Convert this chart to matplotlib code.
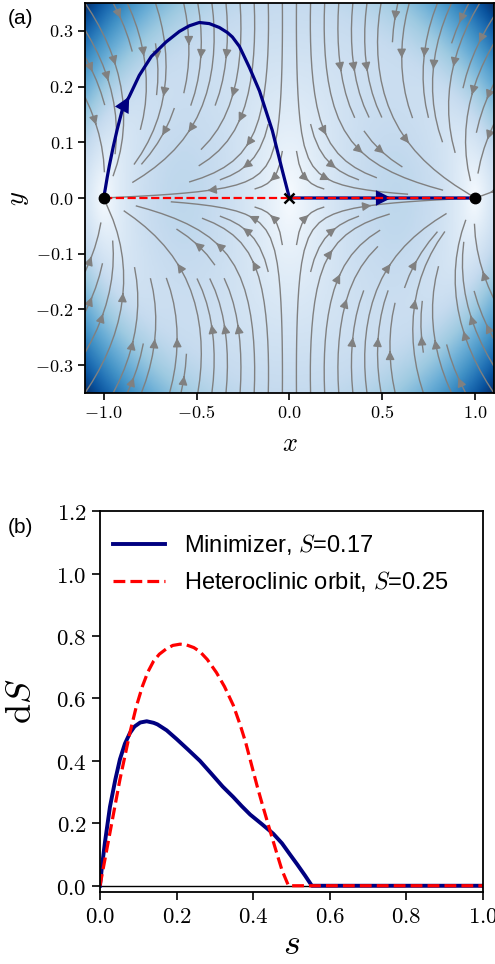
import numpy as np
import matplotlib
matplotlib.use('Agg')
import matplotlib.pyplot as plt
from matplotlib.ticker import FuncFormatter
from matplotlib.colors import PowerNorm

plt.rcParams['font.family'] = ['Liberation Sans', 'DejaVu Sans']
plt.rcParams['mathtext.fontset'] = 'cm'

# Maier-Stein type field, beta parameter
beta = 10.0

# minimizer path
path_x = [-1.0, -0.991, -0.98, -0.969, -0.948, -0.926, -0.898, -0.862, -0.808, -0.743,
          -0.664, -0.592, -0.539, -0.485, -0.431, -0.377, -0.334, -0.307, -0.269, -0.215,
          -0.161, -0.092, -0.038, 0.0, 0.549, 1.0]
path_y = [0.0, 0.016, 0.038, 0.058, 0.092, 0.124, 0.160, 0.182, 0.220, 0.254,
          0.280, 0.299, 0.309, 0.315, 0.313, 0.306, 0.297, 0.289, 0.272, 0.234,
          0.192, 0.121, 0.049, 0.0, 0.0, 0.0]
arrow_idx = [7, 24]

# heteroclinic orbit, fixed points, saddle
het_x = [-1.0, 1.0]
het_y = [0.0, 0.0]
fp_x = [-1.0, 1.0]
fp_y = [0.0, 0.0]
saddle_x = [0.0]
saddle_y = [0.0]

# panel (b) curves
s_min = [0, 0.005, 0.013, 0.026, 0.04, 0.052, 0.065, 0.078, 0.09, 0.105, 0.122, 0.14,
         0.15, 0.174, 0.2, 0.23, 0.261, 0.29, 0.32, 0.348, 0.37, 0.392, 0.42, 0.452,
         0.475, 0.496, 0.515, 0.535, 0.553, 1.0]
dS_min = [0, 0.06, 0.14, 0.253, 0.34, 0.405, 0.455, 0.489, 0.51, 0.523, 0.527, 0.522,
          0.517, 0.498, 0.47, 0.436, 0.40, 0.36, 0.318, 0.284, 0.255, 0.228, 0.20, 0.167,
          0.136, 0.10, 0.068, 0.033, 0.0, 0.0]
s_het = [0, 0.026, 0.052, 0.078, 0.095, 0.111, 0.125, 0.14, 0.155, 0.172, 0.19, 0.209,
         0.225, 0.245, 0.261, 0.28, 0.304, 0.325, 0.348, 0.366, 0.38, 0.395, 0.41, 0.425,
         0.441, 0.46, 0.475, 0.492, 1.0]
dS_het = [0, 0.17, 0.34, 0.49, 0.575, 0.64, 0.685, 0.72, 0.742, 0.758, 0.77, 0.774,
          0.772, 0.763, 0.75, 0.725, 0.683, 0.638, 0.578, 0.515, 0.46, 0.39, 0.32, 0.255,
          0.188, 0.11, 0.05, 0.0, 0.0]

fig = plt.figure(figsize=(4.95, 9.64), dpi=100)
ax1 = fig.add_axes([0.1717, 0.5923, 0.826, 0.4046])
ax2 = fig.add_axes([0.202, 0.0747, 0.774, 0.395])

# panel (a): background + streamlines
gx = np.linspace(-1.1, 1.1, 300)
gy = np.linspace(-0.35, 0.35, 300)
X, Y = np.meshgrid(gx, gy)
U = X - X**3 - beta * X * Y**2
V = -(1 + X**2) * Y
speed = np.hypot(U, V)
ax1.imshow(speed, extent=[-1.1, 1.1, -0.35, 0.35], origin='lower', cmap='Blues',
           norm=PowerNorm(0.85, vmin=0, vmax=speed.max()),
           aspect='auto', interpolation='bilinear')
ax1.streamplot(X, Y, U, V, color='gray', linewidth=1, density=1.0, arrowsize=1.3)

ax1.plot(path_x, path_y, color='navy', lw=2.3, zorder=3)
for i in arrow_idx:
    ax1.annotate('', xy=(path_x[i], path_y[i]), xytext=(path_x[i-1], path_y[i-1]),
                 arrowprops=dict(arrowstyle='-|>', color='navy', mutation_scale=28,
                                 lw=0, shrinkA=0, shrinkB=0), zorder=4)
ax1.plot(het_x, het_y, '--', color='red', lw=1.6, zorder=5)
ax1.plot(fp_x, fp_y, 'o', color='black', ms=7.5, zorder=6)
ax1.plot(saddle_x, saddle_y, 'x', color='black', ms=7, mew=1.8, zorder=6)

ax1.set_xlim(-1.1, 1.1)
ax1.set_ylim(-0.35, 0.35)
ax1.set_xticks([-1.0, -0.5, 0.0, 0.5, 1.0])
ax1.set_yticks([-0.3, -0.2, -0.1, 0.0, 0.1, 0.2, 0.3])
fmt = FuncFormatter(lambda v, p: '$%.1f$' % v)
ax1.xaxis.set_major_formatter(fmt)
ax1.yaxis.set_major_formatter(fmt)
ax1.tick_params(labelsize=13, direction='out', length=5, width=1.2)
ax1.set_xlabel('$x$', fontsize=19, va='center')
ax1.set_ylabel('$y$', fontsize=19, va='center')
ax1.xaxis.set_label_coords(0.5, -0.131)
ax1.yaxis.set_label_coords(-0.161, 0.5)
for sp in ax1.spines.values():
    sp.set_linewidth(1.3)

# panel (b)
ax2.plot(s_min, dS_min, color='navy', lw=2.8, label='Minimizer, $S$=0.17')
ax2.plot(s_het, dS_het, '--', color='red', lw=2.3, label='Heteroclinic orbit, $S$=0.25')
ax2.axhline(0, color='black', lw=1, zorder=0)
ax2.set_xlim(0, 1)
ax2.set_ylim(-0.02, 1.2)
ax2.set_xticks([0.0, 0.2, 0.4, 0.6, 0.8, 1.0])
ax2.set_yticks([0.0, 0.2, 0.4, 0.6, 0.8, 1.0, 1.2])
ax2.xaxis.set_major_formatter(fmt)
ax2.yaxis.set_major_formatter(fmt)
ax2.tick_params(labelsize=16.5, direction='out', length=6, width=1.2)
ax2.set_xlabel('$s$', fontsize=26, va='center')
ax2.set_ylabel(r'$\mathrm{d}S$', fontsize=26, va='center')
ax2.xaxis.set_label_coords(0.5, -0.139)
ax2.yaxis.set_label_coords(-0.204, 0.5)
for sp in ax2.spines.values():
    sp.set_linewidth(1.3)
ax2.legend(loc='upper left', bbox_to_anchor=(-0.021, 1.0), frameon=False, fontsize=17,
           handlelength=2.2, handletextpad=0.8)

fig.text(0.016, 0.975, '(a)', fontsize=15)
fig.text(0.016, 0.447, '(b)', fontsize=15)

fig.savefig('out.png', dpi=100)
